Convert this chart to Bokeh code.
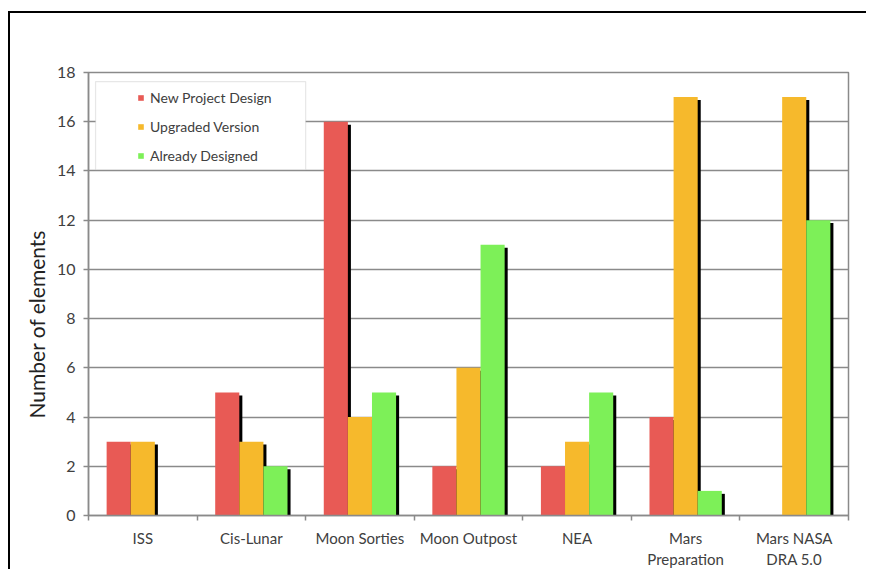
from bokeh.plotting import figure
from bokeh.models import Range1d, FixedTicker, Legend, LegendItem, BoxAnnotation, ColumnDataSource, Title
from bokeh.embed import file_html
from bokeh.resources import INLINE

categories = ["ISS", "Cis-Lunar", "Moon Sorties", "Moon Outpost", "NEA",
              "Mars\nPreparation", "Mars NASA\nDRA 5.0"]
new_project = [3, 5, 16, 2, 2, 4, 0]
upgraded = [3, 3, 4, 6, 3, 17, 17]
already = [0, 2, 5, 11, 5, 1, 12]
series_names = ["New Project Design", "Upgraded Version", "Already Designed"]
series_colors = ["#E85A55", "#F6B92C", "#7DF058"]
y_ticks = list(range(0, 19, 2))
y_title = "Number of elements"

FONT = "Lato"
TXT = "#404040"
GRID = "#8a8a8a"

n = len(categories)
p = figure(width=858, height=558, output_backend="svg", toolbar_location=None,
           x_range=Range1d(0, n), y_range=Range1d(0, 18),
           min_border_left=78, min_border_right=20, min_border_top=59, min_border_bottom=55)
p.styles = {"border-left": "2px solid black", "border-top": "2px solid black",
            "margin-left": "8px", "margin-top": "11px"}

p.outline_line_color = GRID
p.outline_line_width = 1.5
p.background_fill_color = "white"

bw = 0.222
dx_sh = 0.028
dy_sh = 0.12
renderers = []
for k, (vals, col) in enumerate(zip([new_project, upgraded, already], series_colors)):
    xs = [i + 0.5 + (k - 1) * bw for i in range(n)]
    src = ColumnDataSource(dict(x=xs, top=vals,
                                xs=[x + dx_sh for x in xs],
                                ts=[v - dy_sh for v in vals]))
    p.vbar(x="xs", top="ts", bottom=0, width=bw, source=src, fill_color="black", line_color=None)
    r = p.vbar(x="x", top="top", bottom=0, width=bw, source=src, fill_color=col, line_color=None)
    renderers.append(r)

# y axis
yax = p.yaxis[0]
yax.ticker = FixedTicker(ticks=y_ticks)
yax.axis_line_color = GRID
yax.axis_line_width = 1.5
yax.major_tick_line_color = GRID
yax.major_tick_line_width = 1.5
yax.major_tick_in = 0
yax.major_tick_out = 5
yax.minor_tick_line_color = None
yax.major_label_text_font = FONT
yax.major_label_text_font_size = "16px"
yax.major_label_text_color = TXT
yax.major_label_standoff = 8

# y title, a little below the frame centre as in the original
p.add_layout(Title(text=y_title, align="left", offset=97, standoff=9,
                   text_font=FONT, text_font_size="21px", text_font_style="normal",
                   text_color="#222222"), "left")

# x axis: ticks at group boundaries (minor), labels at group centres
xax = p.xaxis[0]
xax.ticker = FixedTicker(ticks=[i + 0.5 for i in range(n)], minor_ticks=list(range(n + 1)))
xax.major_label_overrides = {i + 0.5: c for i, c in enumerate(categories)}
xax.axis_line_color = GRID
xax.axis_line_width = 1.5
xax.major_tick_line_color = None
xax.major_tick_in = 0
xax.major_tick_out = 0
xax.minor_tick_line_color = GRID
xax.minor_tick_line_width = 1.5
xax.minor_tick_in = 0
xax.minor_tick_out = 5
xax.major_label_text_font = FONT
xax.major_label_text_font_size = "15px"
xax.major_label_text_color = TXT
xax.major_label_standoff = 8

p.xgrid.grid_line_color = None
p.ygrid.ticker = FixedTicker(ticks=y_ticks)
p.ygrid.grid_line_color = GRID
p.ygrid.grid_line_width = 1.5

# legend frame
box = BoxAnnotation(left=0.065, right=2.0, top=17.63, bottom=14.05,
                    fill_color="white", fill_alpha=1.0, line_color="#b0b0b0", line_width=1.2)
p.add_layout(box)

legend = Legend(items=[LegendItem(label=nm, renderers=[r]) for nm, r in zip(series_names, renderers)],
                location=(41, 342), orientation="vertical",
                border_line_alpha=0, background_fill_alpha=0,
                glyph_width=7, glyph_height=7, label_standoff=6,
                label_height=20, spacing=9, padding=8, margin=0,
                label_text_font=FONT, label_text_font_size="14px", label_text_color=TXT)
p.add_layout(legend)

open("out.html", "w").write(file_html(p, INLINE))
